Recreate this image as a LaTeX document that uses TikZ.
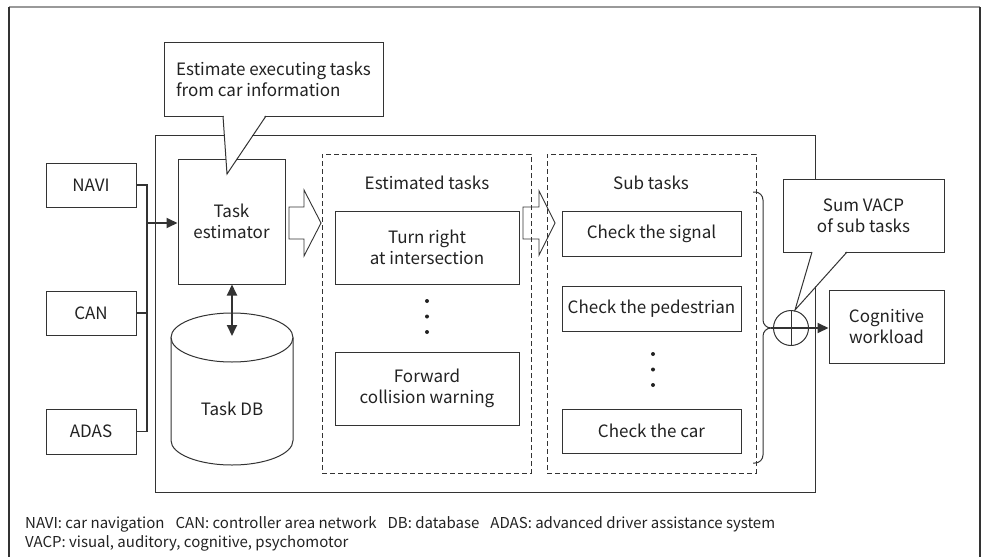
\documentclass[tikz,border=0pt]{standalone}
\usepackage{fontspec}
\setmainfont{Noto Sans CJK SC}
\usetikzlibrary{arrows.meta}
\definecolor{ln}{HTML}{333333}
\definecolor{tx}{HTML}{222222}
\begin{document}
\begin{tikzpicture}[x=1pt,y=-1pt,
  box/.style={draw=ln, line width=1pt, fill=white, inner sep=0pt, align=center,
    font=\fontsize{17}{21}\selectfont, text=tx},
  lbl/.style={inner sep=0pt, align=center, font=\fontsize{17}{21}\selectfont, text=tx},
  dbox/.style={draw=ln, line width=0.9pt, dash pattern=on 5pt off 3pt},
  bus/.style={draw=ln, line width=1.8pt},
  tipa/.style={-{Triangle[length=11pt,width=10pt]}},
  tipb/.style={{Triangle[length=11pt,width=10pt]}-{Triangle[length=11pt,width=10pt]}},
  hollow/.style={draw=ln, line width=0.9pt, line join=miter},
  dotc/.style={circle, fill=tx, inner sep=0pt, minimum size=4pt},
  note/.style={inner sep=0pt, anchor=west, font=\fontsize{15}{18}\selectfont, text=tx}
]
\useasboundingbox (0,0) rectangle (983,557);
% outer frame
\draw[gray!80, line width=2pt] (9,7) -- (980,7);
\draw[ln, line width=1.3pt] (9,7) -- (9,560);
\draw[ln, line width=1.3pt] (980,7) -- (980,560);

% main box
\node[draw=ln, line width=1pt, minimum width=660pt, minimum height=357pt, inner sep=0pt] (main) at (485,313.5) {};

% inputs
\node[box, minimum width=90pt, minimum height=44pt] (navi) at (91,185) {NAVI};
\node[box, minimum width=90pt, minimum height=44pt] (can) at (91,313) {CAN};
\node[box, minimum width=90pt, minimum height=45pt] (adas) at (91,431.5) {ADAS};

% estimator
\node[box, minimum width=107pt, minimum height=125pt] (est) at (231.5,221.5) {Task\\estimator};

% bus
\coordinate (bt) at (147,185);
\coordinate (bm) at (147,313);
\coordinate (bb) at (147,431.5);
\coordinate (bj) at (147,223);
\draw[bus, line join=miter] (navi.east) -- (bt) -- (bb) -- (adas.east);
\draw[bus] (can.east) -- (bm);
\draw[bus, tipa] (bj) -- (bj -| est.west);

% database cylinder
\draw[ln, line width=1pt, fill=white] (171,337.5) -- (171,440.5)
  arc[start angle=180, end angle=0, x radius=61, y radius=24.5] -- (293,337.5);
\draw[ln, line width=1pt] (232,337.5) ellipse [x radius=61, y radius=24.5];
\node[lbl] (db) at (232,409) {Task DB};
\coordinate (dbtop) at (232,336);
\draw[bus, tipb] (est.south -| dbtop) -- (dbtop);

% callout 1
\node[box, minimum width=219pt, minimum height=74pt, align=left] (c1) at (273.5,79)
  {Estimate executing tasks\\from car information};
\coordinate (p1a) at (223,116);
\coordinate (p1t) at (227,174);
\coordinate (p1b) at (266,116);
\fill[white] (223.6,115) -- (p1t) -- (265.4,115) -- cycle;
\draw[ln, line width=1pt] (p1a) -- (p1t) -- (p1b);

% hollow arrow 1
\draw[hollow] (289,207) -- (304,207) -- (304,190) -- (321,223) -- (304,256) -- (304,239) -- (289,239) -- cycle;

% estimated tasks
\node[dbox, minimum width=209pt, minimum height=319pt, inner sep=0pt] (et) at (426.5,313.5) {};
\node[lbl] (ett) at (427,183) {Estimated tasks};
\node[box, minimum width=184pt, minimum height=73pt] (tr) at (427,247.5) {Turn right\\at intersection};
\node[box, minimum width=184pt, minimum height=73pt] (fc) at (427,388.5) {Forward\\collision warning};
\node[dotc] (d1) at (427,301) {};
\node[dotc] (d2) at (427,316.5) {};
\node[dotc] (d3) at (427,332) {};

% hollow arrow 2
\draw[hollow] (523,207) -- (539,207) -- (539,191) -- (555,223) -- (539,255) -- (539,239) -- (523,239) -- cycle;

% sub tasks
\node[dbox, minimum width=209pt, minimum height=319pt, inner sep=0pt] (st) at (651.5,313.5) {};
\node[lbl] (stt) at (651,183) {Sub tasks};
\node[box, minimum width=179pt, minimum height=45pt] (s1) at (651.5,233.5) {Check the signal};
\node[box, minimum width=179pt, minimum height=45pt] (s2) at (651.5,308.5) {Check the pedestrian};
\node[box, minimum width=179pt, minimum height=44pt] (s3) at (651.5,431) {Check the car};
\node[dotc] (e1) at (653,354) {};
\node[dotc] (e2) at (653,369.5) {};
\node[dotc] (e3) at (653,385) {};

% brace
\coordinate (cusp) at (771,328);
\draw[ln, line width=1pt, rounded corners=8pt] (753,192) -- (763,192) -- (763,328) -- (cusp);
\draw[ln, line width=1pt, rounded corners=8pt] (cusp) -- (763,328) -- (763,463) -- (753,463);

% sum and output
\node[draw=ln, line width=1pt, circle, minimum size=35pt, inner sep=0pt] (sum) at (791,328) {};
\draw[ln, line width=1pt] (sum.north) -- (sum.south);
\node[box, minimum width=115pt, minimum height=73pt] (cog) at (886.5,326.5) {Cognitive\\workload};
\draw[bus, tipa] (cusp) -- (cusp -| cog.west);

% callout 2
\node[box, minimum width=161pt, minimum height=73pt] (c2) at (863.5,215.5) {Sum VACP\\of sub tasks};
\coordinate (p2a) at (812,252);
\coordinate (p2t) at (795,310);
\coordinate (p2b) at (847,252);
\fill[white] (812.3,251) -- (p2t) -- (846.4,251) -- cycle;
\draw[ln, line width=1pt] (p2a) -- (p2t) -- (p2b);

% notes
\node[note] (n1) at (25,524) {NAVI: car navigation\hspace{11pt}CAN: controller area network\hspace{11pt}DB: database\hspace{11pt}ADAS: advanced driver assistance system};
\node[note] (n2) at (25,543) {VACP: visual, auditory, cognitive, psychomotor};
\end{tikzpicture}
\end{document}
